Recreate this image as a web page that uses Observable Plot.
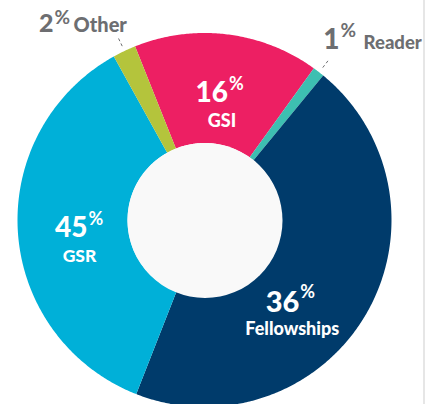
<!DOCTYPE html>
<html><head><meta charset="utf-8">
<script src="https://cdn.jsdelivr.net/npm/d3@7"></script>
<script src="https://cdn.jsdelivr.net/npm/@observablehq/plot@0.6"></script>
<style>
html,body{margin:0;padding:0;background:#fff;}
#wrap{position:relative;width:433px;height:404px;overflow:hidden;}
#edge{position:absolute;left:423px;top:0;width:2px;height:404px;background:#e6e6e6;}
svg{display:block;}
</style></head><body><div id="wrap"><div id="edge"></div></div>
<script>
// Slices in clockwise order from the top.
const categories = ["GSI", "Reader", "Fellowships", "GSR", "Other"];
// Arc sizes as drawn in the picture (percent of the ring).
const shares = [16, 1, 45, 36, 2];
// Percentages as printed on the picture.
const printedPct = ["16", "1", "36", "45", "2"];
const colors = ["#ed1f63", "#3dbfb1", "#003b6b", "#00b0d8", "#b4c43c"];

// ---- layout (not data) ----
const R = 187, R0 = 77, startDeg = -21.8;
const rad = d => d * Math.PI / 180;
const polar = (deg, r) => ({x: r * Math.sin(rad(deg)), y: r * Math.cos(rad(deg))});
const labelLayout = {
  GSI:         {deg: 11.0,  r: 120.5, inside: true,  fsNum: 28, fsPct: 18, pctDy: -12, fsName: 18, nameDx: -6, nameDy: 25},
  GSR:         {deg: 261.9, r: 118.7, inside: true,  fsNum: 28, fsPct: 18, pctDy: -12, fsName: 17.5, nameDx: -8, nameDy: 25},
  Fellowships: {deg: 134.2, r: 131.5, inside: true,  fsNum: 29, fsPct: 18, pctDy: -14, fsName: 18, nameDx: -7, nameDy: 23},
  Other:       {deg: 321.2, r: 241.7, inside: false, fsNum: 25, fsPct: 19, pctDy: -8,  fsName: 20, nameDx: 20, nameDy: 0},
  Reader:      {deg: 38.1,  r: 218.1, inside: false, fsNum: 28, fsPct: 19, pctDy: -12, fsName: 18.5, nameDx: 24, nameDy: 0}
};

const pie = d3.pie().sort(null).value(d => d.share)
  .startAngle(rad(startDeg)).endAngle(rad(startDeg + 360));
const slices = pie(categories.map((c, i) => ({name: c, share: shares[i], pct: printedPct[i]})));

const ring = [];
for (const s of slices) {
  const n = Math.max(6, Math.ceil((s.endAngle - s.startAngle) / (Math.PI / 360)));
  for (let k = 0; k <= n; k++) {
    const a = s.startAngle + (s.endAngle - s.startAngle) * k / n;
    ring.push({name: s.data.name,
      xo: R * Math.sin(a), yo: R * Math.cos(a),
      xi: R0 * Math.sin(a), yi: R0 * Math.cos(a)});
  }
}

const labels = slices.map(s => {
  const L = labelLayout[s.data.name];
  const p = polar(L.deg, L.r);
  const mid = (s.startAngle + s.endAngle) / 2;
  return {...L, label: s.data.name, pct: s.data.pct, x: p.x, y: p.y, mid};
});
const inner = labels.filter(d => d.inside);
const outer = labels.filter(d => !d.inside);
const leaders = outer.map(d => ({
  x1: 193 * Math.sin(d.mid), y1: 193 * Math.cos(d.mid),
  x2: 204 * Math.sin(d.mid), y2: 204 * Math.cos(d.mid)}));

const font = "Lato, Roboto, sans-serif";
const gray = "#6d6e71";
const textMarks = (data, fill) => data.flatMap(d => [
  Plot.text([d], {x: "x", y: "y", text: "pct", textAnchor: "end", lineAnchor: "bottom",
    fontSize: d.fsNum, fontWeight: 900, fill, fontFamily: font}),
  Plot.text([d], {x: "x", y: "y", text: () => "%", textAnchor: "start", lineAnchor: "bottom",
    dx: 1, dy: d.pctDy, fontSize: d.fsPct, fontWeight: 700, fill, fontFamily: font}),
  Plot.text([d], {x: "x", y: "y", text: "label", textAnchor: d.inside ? "middle" : "start", lineAnchor: "bottom",
    dx: d.nameDx, dy: d.nameDy, fontSize: d.fsName, fontWeight: 900, fill, fontFamily: font})
]);

const chart = Plot.plot({
  width: 433, height: 404,
  margin: 0,
  x: {domain: [-204.5, 228.5], range: [0, 433], axis: null},
  y: {domain: [-184, 220], range: [404, 0], axis: null},
  color: {domain: categories, range: colors},
  style: {background: "transparent", overflow: "hidden"},
  marks: [
    Plot.area(ring, {x1: "xo", y1: "yo", x2: "xi", y2: "yi", z: "name", fill: "name", curve: "linear"}),
    Plot.dot([{x: 0, y: 0}], {x: "x", y: "y", r: R0 + 0.5, fill: "#f9f9f9", stroke: "none"}),
    Plot.link(leaders, {x1: "x1", y1: "y1", x2: "x2", y2: "y2", stroke: gray, strokeWidth: 1, strokeDasharray: "3,2.5"}),
    ...textMarks(inner, "white"),
    ...textMarks(outer, gray)
  ]
});
document.getElementById("wrap").prepend(chart);
</script>
</body></html>
